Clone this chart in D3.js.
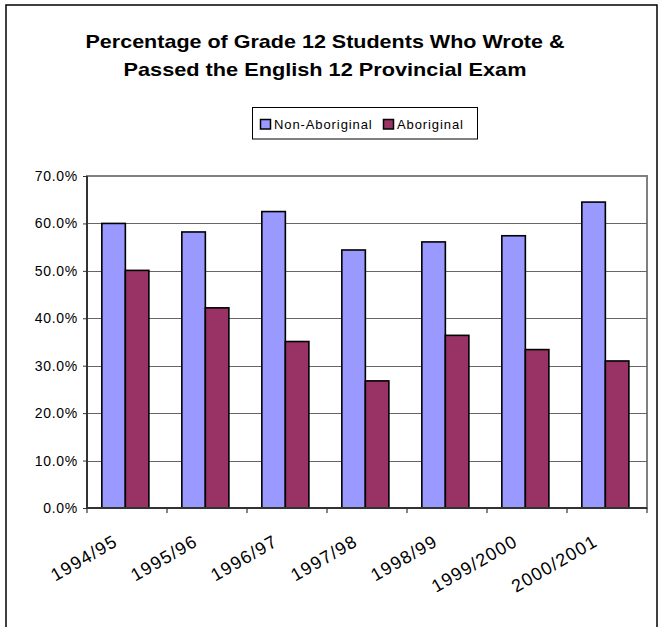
<!DOCTYPE html>
<html>
<head>
<meta charset="utf-8">
<script src="https://cdn.jsdelivr.net/npm/d3@7/dist/d3.min.js"></script>
<style>
  html, body { margin: 0; padding: 0; background: #fff; }
  svg { display: block; font-family: "Liberation Sans", Arial, sans-serif; }
</style>
</head>
<body>
<svg id="chart" width="660" height="627"></svg>
<script>
const categories = ["1994/95", "1995/96", "1996/97", "1997/98", "1998/99", "1999/2000", "2000/2001"];
const seriesNames = ["Non-Aboriginal", "Aboriginal"];
const nonAboriginal = [60.0, 58.2, 62.5, 54.4, 56.1, 57.4, 64.5];
const aboriginal = [50.1, 42.2, 35.1, 26.8, 36.4, 33.4, 31.0];
const yTicks = [0, 10, 20, 30, 40, 50, 60, 70];
const titleLines = ["Percentage of Grade 12 Students Who Wrote &", "Passed the English 12 Provincial Exam"];
const colors = ["#9999FF", "#993366"];

const svg = d3.select("#chart");
const plot = { left: 87, right: 647, top: 176, bottom: 508 };

// outer chart frame
svg.append("rect").attr("x", 6).attr("y", 5).attr("width", 651).attr("height", 660)
  .attr("fill", "none").attr("stroke", "#000").attr("stroke-width", 1.5);

// title
const titleW = [479, 403];
titleLines.forEach((t, i) => {
  svg.append("text").attr("x", 325).attr("y", 48 + i * 28)
    .attr("text-anchor", "middle").attr("font-size", 19).attr("font-weight", "bold")
    .attr("textLength", titleW[i]).attr("lengthAdjust", "spacingAndGlyphs")
    .attr("fill", "#000").text(t);
});

// legend
svg.append("rect").attr("x", 252.5).attr("y", 107.5).attr("width", 225).attr("height", 31.5)
  .attr("fill", "#fff").attr("stroke", "#000").attr("stroke-width", 1);
const legX = [260, 383];
seriesNames.forEach((s, i) => {
  svg.append("rect").attr("x", legX[i] + 0.5).attr("y", 119.5).attr("width", 10).attr("height", 9.5)
    .attr("fill", colors[i]).attr("stroke", "#000").attr("stroke-width", 1.5);
  svg.append("text").attr("x", legX[i] + 14).attr("y", 128.5)
    .attr("font-size", 13).attr("letter-spacing", 0.9).attr("fill", "#000").text(s);
});

const y = d3.scaleLinear().domain([0, 70]).range([plot.bottom, plot.top]);
const x0 = d3.scaleBand().domain(categories).range([plot.left, plot.right]).paddingInner(0).paddingOuter(0);
const x1 = d3.scaleBand().domain(seriesNames).range([0, x0.bandwidth()]).paddingInner(0).paddingOuter(0.7).align(0.45);

// plot area border
svg.append("rect").attr("x", plot.left).attr("y", plot.top)
  .attr("width", plot.right - plot.left).attr("height", plot.bottom - plot.top)
  .attr("fill", "#fff").attr("stroke", "#808080").attr("stroke-width", 2);

// gridlines
svg.append("g").selectAll("line").data(yTicks.filter(d => d > 0 && d < 70)).join("line")
  .attr("x1", plot.left).attr("x2", plot.right)
  .attr("y1", d => Math.round(y(d)) + 0.5).attr("y2", d => Math.round(y(d)) + 0.5)
  .attr("stroke", "#666").attr("stroke-width", 1);

// bars
const data = categories.map((c, i) => ({ c, vals: [nonAboriginal[i], aboriginal[i]] }));
const groups = svg.append("g").selectAll("g").data(data).join("g")
  .attr("transform", d => `translate(${x0(d.c)},0)`);
groups.selectAll("rect").data(d => d.vals.map((v, j) => ({ s: seriesNames[j], v, j }))).join("rect")
  .attr("x", d => x1(d.s)).attr("width", x1.bandwidth())
  .attr("y", d => y(d.v)).attr("height", d => y(0) - y(d.v))
  .attr("fill", d => colors[d.j]).attr("stroke", "#000").attr("stroke-width", 1.6);

// y axis
const yAxis = d3.axisLeft(y).tickValues(yTicks).tickSize(4).tickPadding(5).tickFormat(d => d3.format(".1f")(d) + "%");
const gy = svg.append("g").attr("transform", `translate(${plot.left},0)`).call(yAxis);
gy.select(".domain").attr("stroke", "#333").attr("stroke-width", 2).attr("d", `M0,${plot.top}V${plot.bottom}`);
gy.selectAll(".tick line").attr("stroke", "#333");
gy.selectAll(".tick text").attr("font-size", 14).attr("letter-spacing", 0.7)
  .attr("font-family", "Liberation Sans, Arial, sans-serif").attr("fill", "#000");

// x axis
const xAxis = d3.axisBottom(x0).tickSize(0).tickFormat(() => "");
const gx = svg.append("g").attr("transform", `translate(0,${plot.bottom})`).call(xAxis);
gx.select(".domain").attr("stroke", "#333").attr("stroke-width", 2).attr("d", `M${plot.left},0H${plot.right}`);
gx.selectAll(".tick").remove();
// category boundary tick marks
const bounds = categories.map(c => x0(c)).concat([plot.right]);
gx.selectAll("line.bt").data(bounds).join("line").attr("class", "bt")
  .attr("x1", d => d).attr("x2", d => d).attr("y1", 0).attr("y2", 5)
  .attr("stroke", "#333").attr("stroke-width", 1.2);
// rotated labels
svg.append("g").selectAll("text").data(categories).join("text")
  .attr("transform", d => `translate(${x0(d) + x0.bandwidth() / 2 - 8},545) rotate(-30)`)
  .attr("text-anchor", "end").attr("font-size", 18).attr("letter-spacing", 1.2)
  .attr("fill", "#000").text(d => d);
</script>
</body>
</html>
